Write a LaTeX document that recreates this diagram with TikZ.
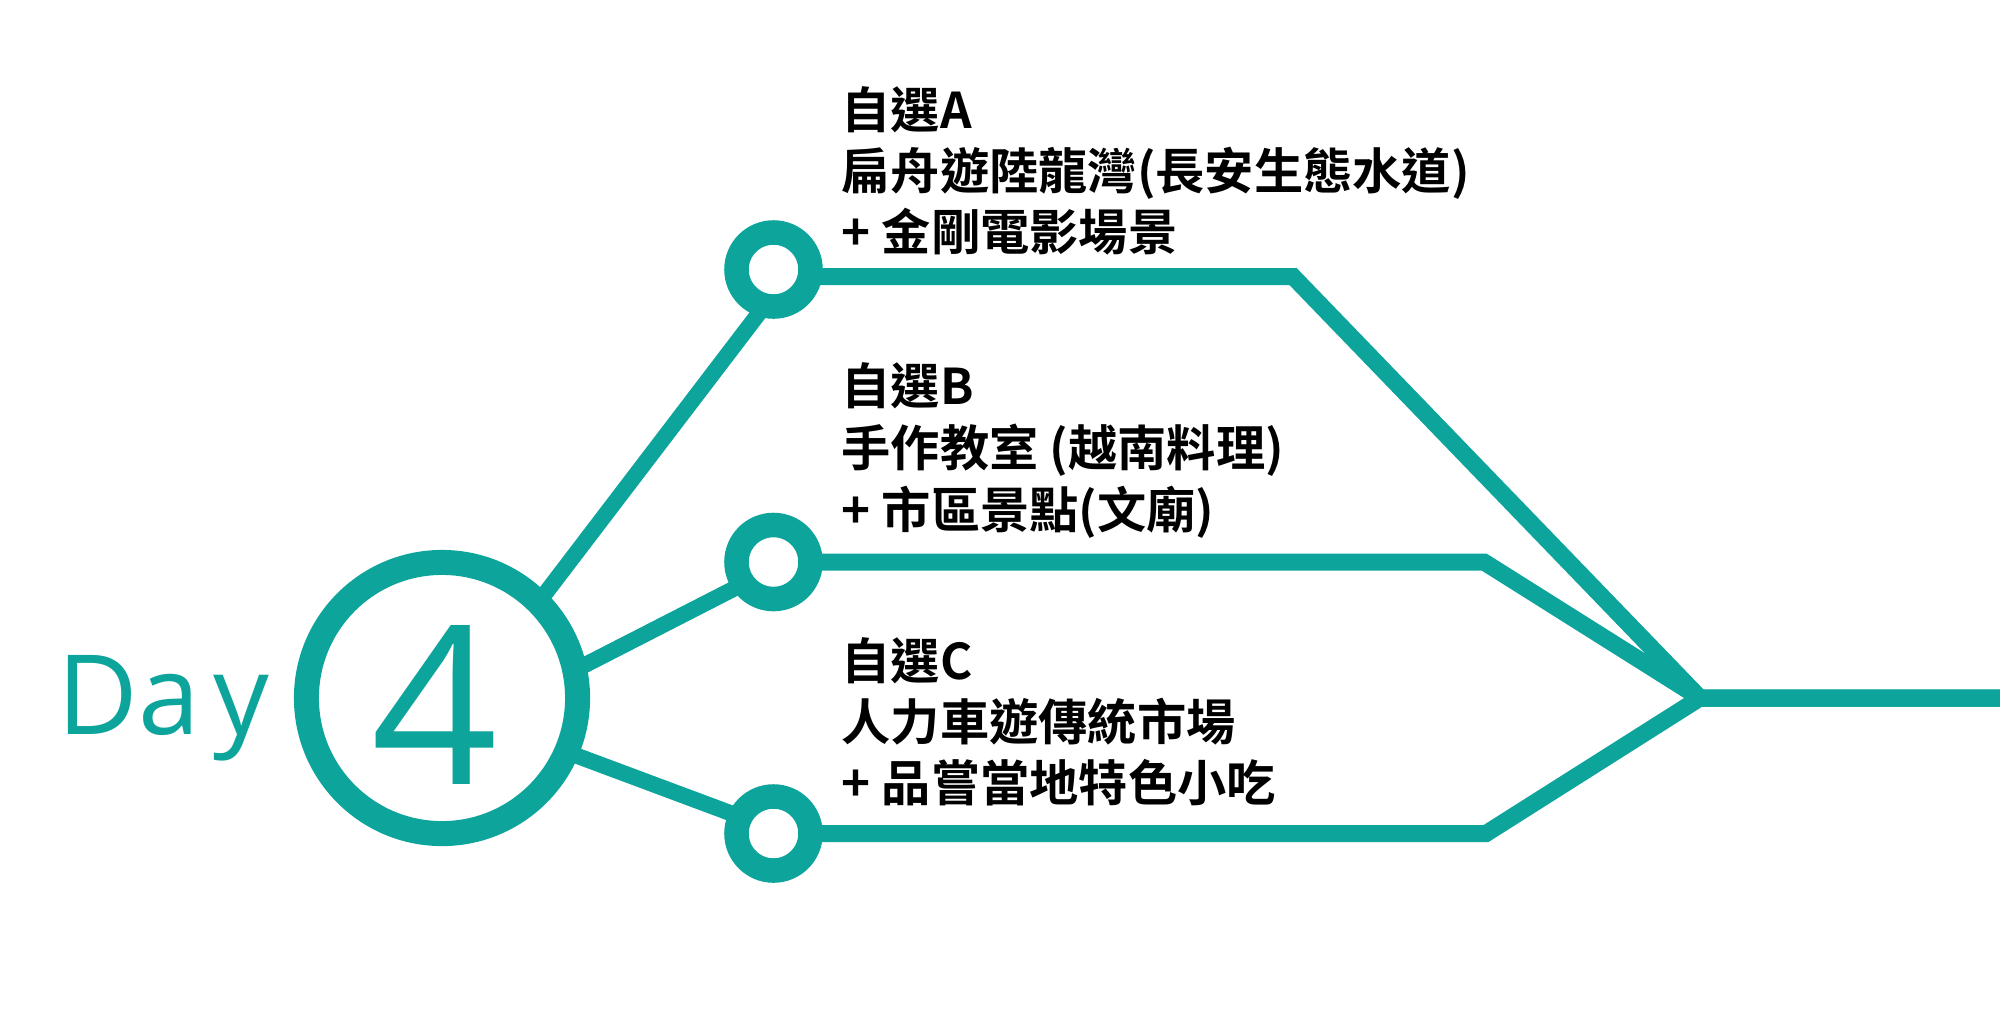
\documentclass[tikz,border=0pt]{standalone}
\usepackage{fontspec}
\newfontfamily\cjk{Noto Sans CJK TC}[UprightFont=* Bold]
\newfontfamily\dayfont{Open Sans}
\definecolor{tealc}{RGB}{13,164,155}
\pgfdeclarelayer{bg}
\pgfsetlayers{bg,main}
\tikzset{
  track/.style={draw=tealc, line width=0.17cm, line join=miter},
  branch/.style={draw=tealc, line width=0.16cm},
  stopring/.style={circle, draw=tealc, fill=white, line width=0.245cm, minimum size=0.74cm, inner sep=0pt},
  bigring/.style={circle, draw=tealc, fill=white, line width=0.25cm, minimum size=2.71cm, inner sep=0pt},
  lbl/.style={anchor=base west, inner sep=0pt, font=\cjk\fontsize{14pt}{17pt}\selectfont},
}
\begin{document}
\begin{tikzpicture}[x=0.01cm,y=-0.01cm]
\useasboundingbox (0,0) rectangle (2000,1011);
% rings
\node[bigring] (day) at (442,698) {};
\node[stopring] (sa) at (773.5,269.5) {};
\node[stopring] (sb) at (773.5,562) {};
\node[stopring] (sc) at (773.5,833.5) {};
% coordinates
\coordinate (a0) at (525,620);
\coordinate (a1) at (769,300);
\coordinate (b0) at (540,688);
\coordinate (b1) at (745,583);
\coordinate (c0) at (540,742);
\coordinate (c1) at (745,818.5);
\coordinate (ta) at (773.5,276.5);
\coordinate (ka) at (1293,276.5);
\coordinate (kb) at (1484,562);
\coordinate (kc) at (1486,833.5);
\coordinate (j) at (1700,698);
\coordinate (e) at (2000,698);
\begin{pgfonlayer}{bg}
  \draw[branch] (a0) -- (a1);
  \draw[branch] (b0) -- (b1);
  \draw[branch] (c0) -- (c1);
  \draw[track] (ta) -- (ka) -- (j) -- (e);
  \draw[track] (sb.center) -- (kb) -- (j) -- (e);
  \draw[track] (sc.center) -- (kc) -- (j) -- (e);
\end{pgfonlayer}
% day label
\node[anchor=base west, inner sep=0pt, text=tealc, font=\dayfont\fontsize{31.5pt}{31.5pt}\selectfont] (daylbl) at (57,734) {Da\kern0.12em y};
\node[anchor=base, inner sep=0pt, text=tealc, font=\dayfont\fontsize{63pt}{63pt}\selectfont] (four) at (435,784) {4};
% texts A
\node[lbl] (a1t) at (841,128) {自選A};
\node[lbl] (a2t) at (841,189) {扁舟遊陸龍灣(長安生態水道)};
\node[lbl] (a3t) at (841,250) {+ 金剛電影場景};
% texts B
\node[lbl] (b1t) at (841,404) {自選B};
\node[lbl] (b2t) at (841,466) {手作教室 (越南料理)};
\node[lbl] (b3t) at (841,528) {+ 市區景點(文廟)};
% texts C
\node[lbl] (c1t) at (841,679) {自選C};
\node[lbl] (c2t) at (841,740) {人力車遊傳統市場};
\node[lbl] (c3t) at (841,801) {+ 品嘗當地特色小吃};
\end{tikzpicture}
\end{document}
